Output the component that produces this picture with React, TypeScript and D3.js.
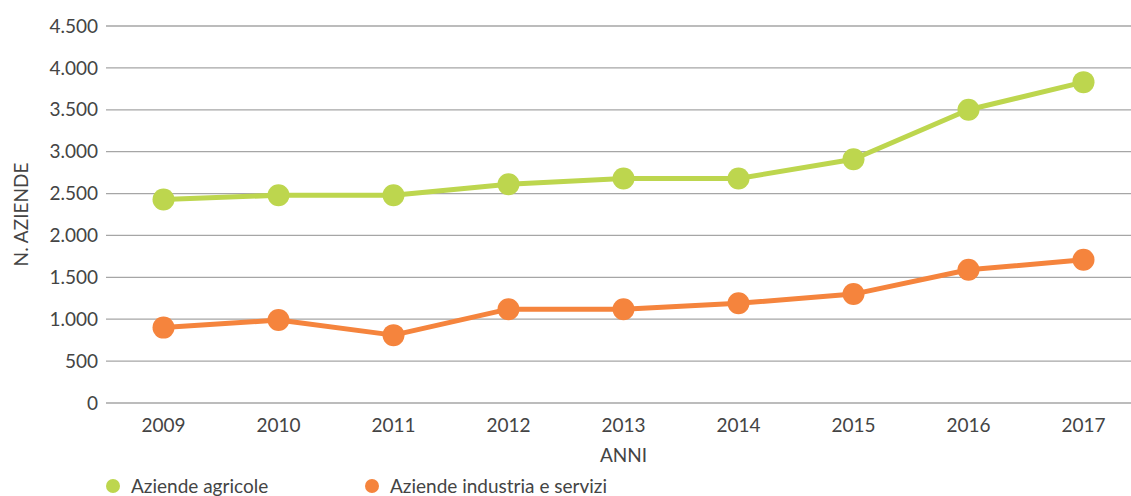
import React from "react";
import * as d3 from "d3";

const years = ["2009", "2010", "2011", "2012", "2013", "2014", "2015", "2016", "2017"];
const agricole = [2430, 2480, 2480, 2610, 2680, 2680, 2910, 3500, 3830];
const industria = [900, 990, 810, 1120, 1120, 1190, 1300, 1590, 1710];
const yTicks = [0, 500, 1000, 1500, 2000, 2500, 3000, 3500, 4000, 4500];
const seriesNames = ["Aziende agricole", "Aziende industria e servizi"];
const colors = ["#bdd64e", "#f5843d"];

const W = 1131;
const H = 496;
// plot area runs a little past the right edge of the picture
const margin = { top: 26, right: -10, bottom: 93, left: 106 };
const font = "Lato, 'Open Sans', sans-serif";
const textColor = "#444";
const fs = 19;

const fmt = (v: number) => d3.format(",")(v).replace(/,/g, ".");

export default function App() {
  const x = d3
    .scalePoint<string>()
    .domain(years)
    .range([margin.left, W - margin.right])
    .padding(0.5);
  const y = d3
    .scaleLinear()
    .domain([0, 4500])
    .range([H - margin.bottom, margin.top]);

  const line = d3
    .line<number>()
    .x((_, i) => x(years[i]) as number)
    .y((d) => y(d));

  const series = [agricole, industria];

  return (
    <svg
      width={W}
      height={H}
      style={{ position: "absolute", left: 0, top: 0, background: "#fff" }}
      fontFamily={font}
    >
      {/* gridlines + y labels */}
      {yTicks.map((t) => (
        <g key={t}>
          <line
            x1={margin.left}
            x2={W - margin.right}
            y1={y(t)}
            y2={y(t)}
            stroke="#a6a6a6"
            strokeWidth={1.3}
          />
          <text
            x={98}
            y={y(t)}
            dy="0.35em"
            textAnchor="end"
            fontSize={fs}
            fill={textColor}
          >
            {fmt(t)}
          </text>
        </g>
      ))}

      {/* x labels */}
      {years.map((yr) => (
        <text
          key={yr}
          x={x(yr)}
          y={432}
          textAnchor="middle"
          fontSize={fs}
          fill={textColor}
        >
          {yr}
        </text>
      ))}

      <text
        x={(margin.left + W - margin.right) / 2}
        y={462}
        textAnchor="middle"
        fontSize={fs}
        fill={textColor}
      >
        ANNI
      </text>
      <text
        transform={`translate(28,${(y(0) + y(4500)) / 2}) rotate(-90)`}
        textAnchor="middle"
        fontSize={fs}
        fill={textColor}
      >
        N. AZIENDE
      </text>

      {/* series */}
      {series.map((s, si) => (
        <g key={si}>
          <path
            d={line(s) ?? ""}
            fill="none"
            stroke={colors[si]}
            strokeWidth={5}
            strokeLinejoin="round"
          />
          {s.map((v, i) => (
            <circle
              key={i}
              cx={x(years[i])}
              cy={y(v)}
              r={11}
              fill={colors[si]}
            />
          ))}
        </g>
      ))}

      {/* legend */}
      {seriesNames.map((n, i) => {
        const lx = i === 0 ? 113 : 372;
        return (
          <g key={n}>
            <circle cx={lx} cy={486} r={7} fill={colors[i]} />
            <text x={lx + 18} y={493} fontSize={fs} fill={textColor}>
              {n}
            </text>
          </g>
        );
      })}
    </svg>
  );
}
